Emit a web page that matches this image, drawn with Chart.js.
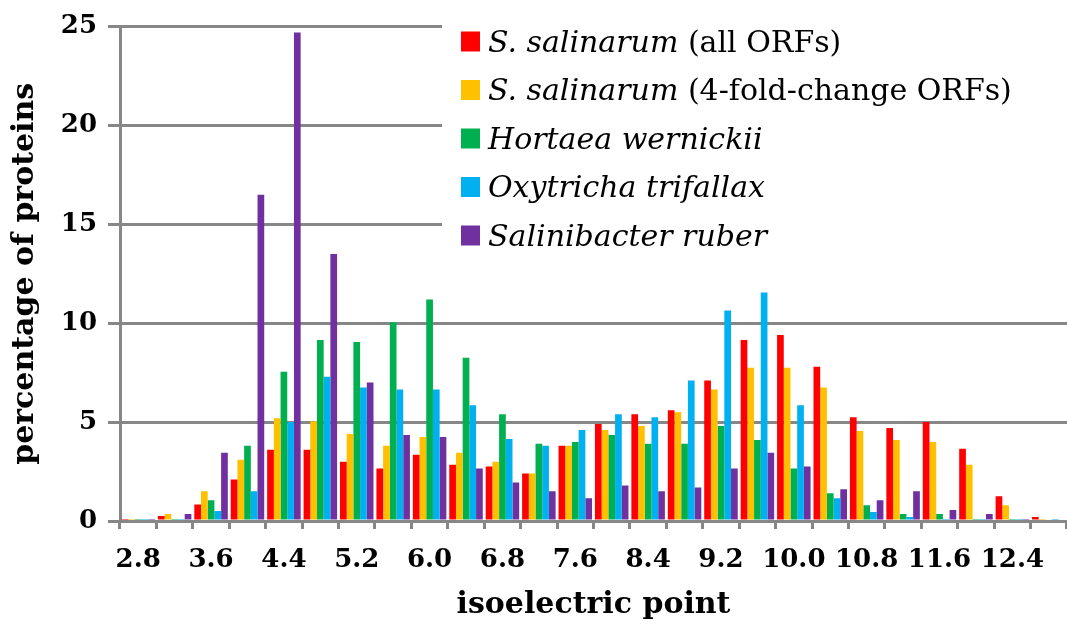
<!DOCTYPE html>
<html>
<head>
<meta charset="utf-8">
<title>Isoelectric point distribution</title>
<script src="https://cdn.jsdelivr.net/npm/chart.js@4.4.1/dist/chart.umd.min.js"></script>
<style>
  html, body { margin: 0; padding: 0; background: #fff; }
  canvas { display: block; }
</style>
</head>
<body>
<canvas id="pi" width="1067" height="626"></canvas>
<script>
// Isoelectric point bins (0.4 pH units wide)
const categories = ['2.8','3.2','3.6','4.0','4.4','4.8','5.2','5.6','6.0','6.4','6.8','7.2','7.6',
                    '8.0','8.4','8.8','9.2','9.6','10.0','10.4','10.8','11.2','11.6','12.0','12.4','12.8'];

// Percentage of proteins per bin for each proteome
const salinarumAll = [0.1,0.25,0.83,2.1,3.6,3.6,3.0,2.65,3.35,2.85,2.75,2.4,3.8,
                      4.9,5.4,5.6,7.1,9.15,9.4,7.8,5.25,4.7,5.0,3.65,1.25,0.2];
const salinarumFold = [0.1,0.35,1.5,3.1,5.2,5.05,4.4,3.8,4.25,3.45,3.0,2.4,3.8,
                       4.6,4.8,5.5,6.65,7.75,7.75,6.75,4.55,4.1,4.0,2.85,0.8,0.1];
const hortaea = [0.1,0.1,1.05,3.8,7.55,9.15,9.05,10.05,11.2,8.25,5.4,3.9,4.0,
                 4.35,3.9,3.9,4.8,4.1,2.65,1.4,0.8,0.35,0.35,0.1,0.1,0];
const oxytricha = [0.05,0.1,0.5,1.5,5.0,7.3,6.75,6.65,6.65,5.85,4.15,3.8,4.6,
                   5.4,5.25,7.1,10.65,11.55,5.85,1.15,0.45,0.2,0.1,0.1,0.05,0.1];
const salinibacter = [0.1,0.35,3.45,16.5,24.7,13.5,7.0,4.35,4.25,2.65,1.95,1.5,1.15,
                      1.8,1.5,1.7,2.65,3.45,2.75,1.6,1.05,1.5,0.55,0.35,0.1,0];

// Legend names: italic taxon plus an upright note
const taxa = ['S. salinarum', 'S. salinarum', 'Hortaea wernickii', 'Oxytricha trifallax', 'Salinibacter ruber'];
const notes = [' (all ORFs)', ' (4-fold-change ORFs)', '', '', ''];
const colors = ['#FF0000', '#FFC000', '#00B050', '#00B0F0', '#7030A0'];
const seriesValues = [salinarumAll, salinarumFold, hortaea, oxytricha, salinibacter];

// Y-axis tick values
const yTicks = [0, 5, 10, 15, 20, 25];

const AXIS_GREY = '#878787';
const SERIF = '"DejaVu Serif", serif';

// Legend drawn on a white panel, taxon names in italics
const speciesLegend = {
  id: 'speciesLegend',
  afterDraw(chart) {
    const ctx = chart.ctx;
    ctx.save();
    ctx.fillStyle = '#ffffff';
    ctx.fillRect(442, 15, chart.width - 442, 244);
    ctx.textBaseline = 'alphabetic';
    ctx.textAlign = 'left';
    chart.data.datasets.forEach((ds, i) => {
      const cy = 41.5 + i * 48.5;
      ctx.fillStyle = ds.backgroundColor;
      ctx.fillRect(461, cy - 10, 19, 20);
      ctx.fillStyle = '#000000';
      ctx.font = 'italic 30px ' + SERIF;
      ctx.fillText(taxa[i], 488, cy + 10);
      const w = ctx.measureText(taxa[i]).width;
      if (notes[i]) {
        ctx.font = '30px ' + SERIF;
        ctx.fillText(notes[i], 488 + w, cy + 10);
      }
    });
    ctx.restore();
  }
};

new Chart(document.getElementById('pi'), {
  type: 'bar',
  data: {
    labels: categories,
    datasets: seriesValues.map((vals, i) => ({
      label: taxa[i] + notes[i],
      data: vals,
      backgroundColor: colors[i],
      borderWidth: 0,
      categoryPercentage: 0.92,
      barPercentage: 1.0
    }))
  },
  options: {
    responsive: false,
    animation: false,
    devicePixelRatio: 1,
    layout: { padding: { top: 24, right: 0, bottom: 0, left: 0 } },
    plugins: {
      legend: { display: false },
      tooltip: { enabled: false }
    },
    scales: {
      x: {
        grid: {
          offset: true,
          drawOnChartArea: false,
          drawTicks: true,
          tickLength: 8,
          color: AXIS_GREY,
          lineWidth: 3
        },
        border: { display: true, color: AXIS_GREY, width: 3 },
        ticks: {
          autoSkip: false,
          maxRotation: 0,
          minRotation: 0,
          padding: 16,
          color: '#000000',
          font: { family: SERIF, size: 26, weight: 'bold' },
          callback: (v, i) => (i % 2 === 0 ? categories[i] : '')
        },
        title: {
          display: true,
          text: 'isoelectric point',
          color: '#000000',
          font: { family: SERIF, size: 30, weight: 'bold' },
          padding: { top: 0, bottom: 3 }
        },
        afterFit: (scale) => { scale.height = 105; }
      },
      y: {
        min: 0,
        max: 25,
        afterBuildTicks: (scale) => { scale.ticks = yTicks.map(v => ({ value: v })); },
        grid: {
          drawTicks: true,
          tickLength: 12,
          color: AXIS_GREY,
          lineWidth: 3
        },
        border: { display: true, color: AXIS_GREY, width: 3 },
        ticks: {
          padding: 11,
          color: '#000000',
          font: { family: SERIF, size: 26, weight: 'bold' }
        },
        title: {
          display: true,
          text: 'percentage of proteins',
          color: '#000000',
          font: { family: SERIF, size: 30, weight: 'bold' },
          padding: { top: 7, bottom: 0 }
        },
        afterFit: (scale) => { scale.width = 120; }
      }
    }
  },
  plugins: [speciesLegend]
});
</script>
</body>
</html>
